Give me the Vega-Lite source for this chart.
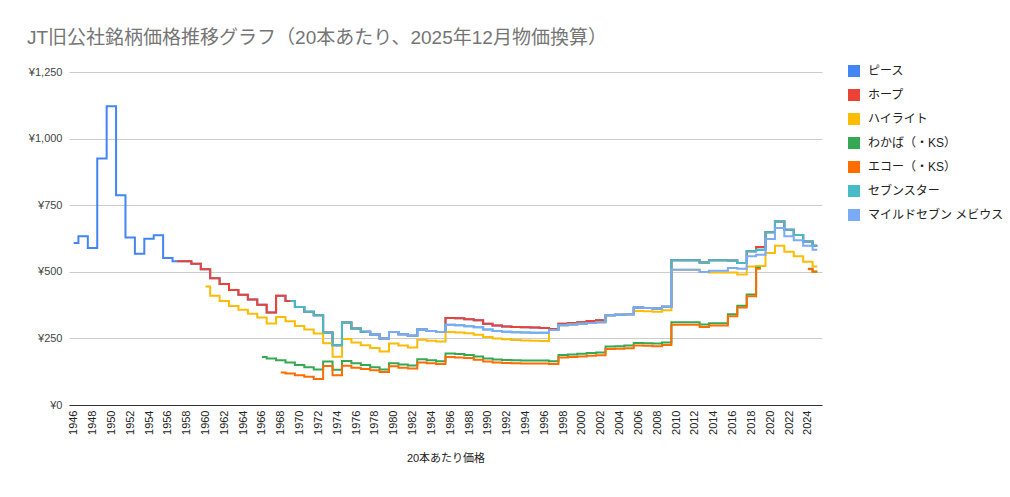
{
  "$schema": "https://vega.github.io/schema/vega-lite/v6.json",
  "width": 753,
  "height": 333,
  "autosize": "none",
  "padding": {"left": 69, "top": 72, "right": 188, "bottom": 92},
  "background": "white",
  "title": {
    "text": "JT旧公社銘柄価格推移グラフ（20本あたり、2025年12月物価換算）",
    "anchor": "start",
    "frame": "group",
    "dx": -42,
    "offset": 17,
    "fontSize": 19,
    "fontWeight": "normal",
    "color": "#757575"
  },
  "data": {
    "values": [
      {"brand": "ピース", "year": 1946, "price": 608},
      {"brand": "ピース", "year": 1947, "price": 633},
      {"brand": "ピース", "year": 1948, "price": 589},
      {"brand": "ピース", "year": 1949, "price": 925},
      {"brand": "ピース", "year": 1950, "price": 1121},
      {"brand": "ピース", "year": 1951, "price": 787},
      {"brand": "ピース", "year": 1952, "price": 629},
      {"brand": "ピース", "year": 1953, "price": 568},
      {"brand": "ピース", "year": 1954, "price": 624},
      {"brand": "ピース", "year": 1955, "price": 637},
      {"brand": "ピース", "year": 1956, "price": 552},
      {"brand": "ピース", "year": 1957, "price": 540},
      {"brand": "ピース", "year": 1958, "price": 540},
      {"brand": "ピース", "year": 1959, "price": 530},
      {"brand": "ピース", "year": 1960, "price": 510},
      {"brand": "ピース", "year": 1961, "price": 476},
      {"brand": "ピース", "year": 1962, "price": 454},
      {"brand": "ピース", "year": 1963, "price": 432},
      {"brand": "ピース", "year": 1964, "price": 414},
      {"brand": "ピース", "year": 1965, "price": 396},
      {"brand": "ピース", "year": 1966, "price": 376},
      {"brand": "ピース", "year": 1967, "price": 347},
      {"brand": "ピース", "year": 1968, "price": 410},
      {"brand": "ピース", "year": 1969, "price": 390},
      {"brand": "ピース", "year": 1970, "price": 368},
      {"brand": "ピース", "year": 1971, "price": 350},
      {"brand": "ピース", "year": 1972, "price": 337},
      {"brand": "ピース", "year": 1973, "price": 272},
      {"brand": "ピース", "year": 1974, "price": 224},
      {"brand": "ピース", "year": 1975, "price": 310},
      {"brand": "ピース", "year": 1976, "price": 287},
      {"brand": "ピース", "year": 1977, "price": 275},
      {"brand": "ピース", "year": 1978, "price": 265},
      {"brand": "ピース", "year": 1979, "price": 250},
      {"brand": "ピース", "year": 1980, "price": 274},
      {"brand": "ピース", "year": 1981, "price": 266},
      {"brand": "ピース", "year": 1982, "price": 260},
      {"brand": "ピース", "year": 1983, "price": 283},
      {"brand": "ピース", "year": 1984, "price": 278},
      {"brand": "ピース", "year": 1985, "price": 274},
      {"brand": "ピース", "year": 1986, "price": 327},
      {"brand": "ピース", "year": 1987, "price": 326},
      {"brand": "ピース", "year": 1988, "price": 322},
      {"brand": "ピース", "year": 1989, "price": 318},
      {"brand": "ピース", "year": 1990, "price": 305},
      {"brand": "ピース", "year": 1991, "price": 298},
      {"brand": "ピース", "year": 1992, "price": 295},
      {"brand": "ピース", "year": 1993, "price": 293},
      {"brand": "ピース", "year": 1994, "price": 292},
      {"brand": "ピース", "year": 1995, "price": 291},
      {"brand": "ピース", "year": 1996, "price": 289},
      {"brand": "ピース", "year": 1997, "price": 285},
      {"brand": "ピース", "year": 1998, "price": 305},
      {"brand": "ピース", "year": 1999, "price": 308},
      {"brand": "ピース", "year": 2000, "price": 311},
      {"brand": "ピース", "year": 2001, "price": 315},
      {"brand": "ピース", "year": 2002, "price": 318},
      {"brand": "ピース", "year": 2003, "price": 337},
      {"brand": "ピース", "year": 2004, "price": 339},
      {"brand": "ピース", "year": 2005, "price": 341},
      {"brand": "ピース", "year": 2006, "price": 366},
      {"brand": "ピース", "year": 2007, "price": 364},
      {"brand": "ピース", "year": 2008, "price": 362},
      {"brand": "ピース", "year": 2009, "price": 369},
      {"brand": "ピース", "year": 2010, "price": 543},
      {"brand": "ピース", "year": 2011, "price": 543},
      {"brand": "ピース", "year": 2012, "price": 543},
      {"brand": "ピース", "year": 2013, "price": 535},
      {"brand": "ピース", "year": 2014, "price": 543},
      {"brand": "ピース", "year": 2015, "price": 543},
      {"brand": "ピース", "year": 2016, "price": 542},
      {"brand": "ピース", "year": 2017, "price": 533},
      {"brand": "ピース", "year": 2018, "price": 577},
      {"brand": "ピース", "year": 2019, "price": 583},
      {"brand": "ピース", "year": 2020, "price": 648},
      {"brand": "ピース", "year": 2021, "price": 689},
      {"brand": "ピース", "year": 2022, "price": 658},
      {"brand": "ピース", "year": 2023, "price": 638},
      {"brand": "ピース", "year": 2024, "price": 614},
      {"brand": "ピース", "year": 2025, "price": 598},

      {"brand": "ホープ", "year": 1957, "price": 540},
      {"brand": "ホープ", "year": 1958, "price": 540},
      {"brand": "ホープ", "year": 1959, "price": 530},
      {"brand": "ホープ", "year": 1960, "price": 510},
      {"brand": "ホープ", "year": 1961, "price": 476},
      {"brand": "ホープ", "year": 1962, "price": 454},
      {"brand": "ホープ", "year": 1963, "price": 432},
      {"brand": "ホープ", "year": 1964, "price": 414},
      {"brand": "ホープ", "year": 1965, "price": 396},
      {"brand": "ホープ", "year": 1966, "price": 376},
      {"brand": "ホープ", "year": 1967, "price": 347},
      {"brand": "ホープ", "year": 1968, "price": 410},
      {"brand": "ホープ", "year": 1969, "price": 390},
      {"brand": "ホープ", "year": 1970, "price": 368},
      {"brand": "ホープ", "year": 1971, "price": 350},
      {"brand": "ホープ", "year": 1972, "price": 337},
      {"brand": "ホープ", "year": 1973, "price": 272},
      {"brand": "ホープ", "year": 1974, "price": 224},
      {"brand": "ホープ", "year": 1975, "price": 310},
      {"brand": "ホープ", "year": 1976, "price": 287},
      {"brand": "ホープ", "year": 1977, "price": 275},
      {"brand": "ホープ", "year": 1978, "price": 265},
      {"brand": "ホープ", "year": 1979, "price": 250},
      {"brand": "ホープ", "year": 1980, "price": 274},
      {"brand": "ホープ", "year": 1981, "price": 266},
      {"brand": "ホープ", "year": 1982, "price": 260},
      {"brand": "ホープ", "year": 1983, "price": 283},
      {"brand": "ホープ", "year": 1984, "price": 278},
      {"brand": "ホープ", "year": 1985, "price": 274},
      {"brand": "ホープ", "year": 1986, "price": 327},
      {"brand": "ホープ", "year": 1987, "price": 326},
      {"brand": "ホープ", "year": 1988, "price": 322},
      {"brand": "ホープ", "year": 1989, "price": 318},
      {"brand": "ホープ", "year": 1990, "price": 305},
      {"brand": "ホープ", "year": 1991, "price": 298},
      {"brand": "ホープ", "year": 1992, "price": 295},
      {"brand": "ホープ", "year": 1993, "price": 293},
      {"brand": "ホープ", "year": 1994, "price": 292},
      {"brand": "ホープ", "year": 1995, "price": 291},
      {"brand": "ホープ", "year": 1996, "price": 289},
      {"brand": "ホープ", "year": 1997, "price": 285},
      {"brand": "ホープ", "year": 1998, "price": 305},
      {"brand": "ホープ", "year": 1999, "price": 308},
      {"brand": "ホープ", "year": 2000, "price": 311},
      {"brand": "ホープ", "year": 2001, "price": 315},
      {"brand": "ホープ", "year": 2002, "price": 318},
      {"brand": "ホープ", "year": 2003, "price": 337},
      {"brand": "ホープ", "year": 2004, "price": 339},
      {"brand": "ホープ", "year": 2005, "price": 341},
      {"brand": "ホープ", "year": 2006, "price": 366},
      {"brand": "ホープ", "year": 2007, "price": 364},
      {"brand": "ホープ", "year": 2008, "price": 362},
      {"brand": "ホープ", "year": 2009, "price": 369},
      {"brand": "ホープ", "year": 2010, "price": 543},
      {"brand": "ホープ", "year": 2011, "price": 543},
      {"brand": "ホープ", "year": 2012, "price": 543},
      {"brand": "ホープ", "year": 2013, "price": 535},
      {"brand": "ホープ", "year": 2014, "price": 543},
      {"brand": "ホープ", "year": 2015, "price": 543},
      {"brand": "ホープ", "year": 2016, "price": 542},
      {"brand": "ホープ", "year": 2017, "price": 533},
      {"brand": "ホープ", "year": 2018, "price": 577},
      {"brand": "ホープ", "year": 2019, "price": 593},
      {"brand": "ホープ", "year": 2020, "price": 648},
      {"brand": "ホープ", "year": 2021, "price": 689},
      {"brand": "ホープ", "year": 2022, "price": 658},
      {"brand": "ホープ", "year": 2023, "price": 638},
      {"brand": "ホープ", "year": 2024, "price": 614},
      {"brand": "ホープ", "year": 2025, "price": 598},

      {"brand": "ハイライト", "year": 1960, "price": 445},
      {"brand": "ハイライト", "year": 1961, "price": 410},
      {"brand": "ハイライト", "year": 1962, "price": 390},
      {"brand": "ハイライト", "year": 1963, "price": 372},
      {"brand": "ハイライト", "year": 1964, "price": 358},
      {"brand": "ハイライト", "year": 1965, "price": 343},
      {"brand": "ハイライト", "year": 1966, "price": 328},
      {"brand": "ハイライト", "year": 1967, "price": 306},
      {"brand": "ハイライト", "year": 1968, "price": 330},
      {"brand": "ハイライト", "year": 1969, "price": 314},
      {"brand": "ハイライト", "year": 1970, "price": 297},
      {"brand": "ハイライト", "year": 1971, "price": 283},
      {"brand": "ハイライト", "year": 1972, "price": 268},
      {"brand": "ハイライト", "year": 1973, "price": 232},
      {"brand": "ハイライト", "year": 1974, "price": 181},
      {"brand": "ハイライト", "year": 1975, "price": 248},
      {"brand": "ハイライト", "year": 1976, "price": 235},
      {"brand": "ハイライト", "year": 1977, "price": 224},
      {"brand": "ハイライト", "year": 1978, "price": 214},
      {"brand": "ハイライト", "year": 1979, "price": 201},
      {"brand": "ハイライト", "year": 1980, "price": 231},
      {"brand": "ハイライト", "year": 1981, "price": 223},
      {"brand": "ハイライト", "year": 1982, "price": 216},
      {"brand": "ハイライト", "year": 1983, "price": 245},
      {"brand": "ハイライト", "year": 1984, "price": 241},
      {"brand": "ハイライト", "year": 1985, "price": 238},
      {"brand": "ハイライト", "year": 1986, "price": 274},
      {"brand": "ハイライト", "year": 1987, "price": 272},
      {"brand": "ハイライト", "year": 1988, "price": 269},
      {"brand": "ハイライト", "year": 1989, "price": 264},
      {"brand": "ハイライト", "year": 1990, "price": 255},
      {"brand": "ハイライト", "year": 1991, "price": 250},
      {"brand": "ハイライト", "year": 1992, "price": 247},
      {"brand": "ハイライト", "year": 1993, "price": 244},
      {"brand": "ハイライト", "year": 1994, "price": 242},
      {"brand": "ハイライト", "year": 1995, "price": 241},
      {"brand": "ハイライト", "year": 1996, "price": 240},
      {"brand": "ハイライト", "year": 1997, "price": 282},
      {"brand": "ハイライト", "year": 1998, "price": 299},
      {"brand": "ハイライト", "year": 1999, "price": 302},
      {"brand": "ハイライト", "year": 2000, "price": 305},
      {"brand": "ハイライト", "year": 2001, "price": 308},
      {"brand": "ハイライト", "year": 2002, "price": 311},
      {"brand": "ハイライト", "year": 2003, "price": 337},
      {"brand": "ハイライト", "year": 2004, "price": 339},
      {"brand": "ハイライト", "year": 2005, "price": 341},
      {"brand": "ハイライト", "year": 2006, "price": 353},
      {"brand": "ハイライト", "year": 2007, "price": 352},
      {"brand": "ハイライト", "year": 2008, "price": 350},
      {"brand": "ハイライト", "year": 2009, "price": 356},
      {"brand": "ハイライト", "year": 2010, "price": 508},
      {"brand": "ハイライト", "year": 2011, "price": 508},
      {"brand": "ハイライト", "year": 2012, "price": 508},
      {"brand": "ハイライト", "year": 2013, "price": 499},
      {"brand": "ハイライト", "year": 2014, "price": 497},
      {"brand": "ハイライト", "year": 2015, "price": 497},
      {"brand": "ハイライト", "year": 2016, "price": 497},
      {"brand": "ハイライト", "year": 2017, "price": 490},
      {"brand": "ハイライト", "year": 2018, "price": 520},
      {"brand": "ハイライト", "year": 2019, "price": 522},
      {"brand": "ハイライト", "year": 2020, "price": 571},
      {"brand": "ハイライト", "year": 2021, "price": 598},
      {"brand": "ハイライト", "year": 2022, "price": 575},
      {"brand": "ハイライト", "year": 2023, "price": 558},
      {"brand": "ハイライト", "year": 2024, "price": 538},
      {"brand": "ハイライト", "year": 2025, "price": 520},

      {"brand": "わかば（・KS）", "year": 1966, "price": 180},
      {"brand": "わかば（・KS）", "year": 1967, "price": 175},
      {"brand": "わかば（・KS）", "year": 1968, "price": 168},
      {"brand": "わかば（・KS）", "year": 1969, "price": 160},
      {"brand": "わかば（・KS）", "year": 1970, "price": 150},
      {"brand": "わかば（・KS）", "year": 1971, "price": 142},
      {"brand": "わかば（・KS）", "year": 1972, "price": 133},
      {"brand": "わかば（・KS）", "year": 1973, "price": 163},
      {"brand": "わかば（・KS）", "year": 1974, "price": 132},
      {"brand": "わかば（・KS）", "year": 1975, "price": 165},
      {"brand": "わかば（・KS）", "year": 1976, "price": 157},
      {"brand": "わかば（・KS）", "year": 1977, "price": 150},
      {"brand": "わかば（・KS）", "year": 1978, "price": 142},
      {"brand": "わかば（・KS）", "year": 1979, "price": 133},
      {"brand": "わかば（・KS）", "year": 1980, "price": 157},
      {"brand": "わかば（・KS）", "year": 1981, "price": 152},
      {"brand": "わかば（・KS）", "year": 1982, "price": 148},
      {"brand": "わかば（・KS）", "year": 1983, "price": 172},
      {"brand": "わかば（・KS）", "year": 1984, "price": 168},
      {"brand": "わかば（・KS）", "year": 1985, "price": 164},
      {"brand": "わかば（・KS）", "year": 1986, "price": 193},
      {"brand": "わかば（・KS）", "year": 1987, "price": 191},
      {"brand": "わかば（・KS）", "year": 1988, "price": 188},
      {"brand": "わかば（・KS）", "year": 1989, "price": 182},
      {"brand": "わかば（・KS）", "year": 1990, "price": 175},
      {"brand": "わかば（・KS）", "year": 1991, "price": 171},
      {"brand": "わかば（・KS）", "year": 1992, "price": 169},
      {"brand": "わかば（・KS）", "year": 1993, "price": 168},
      {"brand": "わかば（・KS）", "year": 1994, "price": 167},
      {"brand": "わかば（・KS）", "year": 1995, "price": 167},
      {"brand": "わかば（・KS）", "year": 1996, "price": 167},
      {"brand": "わかば（・KS）", "year": 1997, "price": 164},
      {"brand": "わかば（・KS）", "year": 1998, "price": 188},
      {"brand": "わかば（・KS）", "year": 1999, "price": 190},
      {"brand": "わかば（・KS）", "year": 2000, "price": 192},
      {"brand": "わかば（・KS）", "year": 2001, "price": 195},
      {"brand": "わかば（・KS）", "year": 2002, "price": 197},
      {"brand": "わかば（・KS）", "year": 2003, "price": 220},
      {"brand": "わかば（・KS）", "year": 2004, "price": 221},
      {"brand": "わかば（・KS）", "year": 2005, "price": 223},
      {"brand": "わかば（・KS）", "year": 2006, "price": 233},
      {"brand": "わかば（・KS）", "year": 2007, "price": 232},
      {"brand": "わかば（・KS）", "year": 2008, "price": 231},
      {"brand": "わかば（・KS）", "year": 2009, "price": 235},
      {"brand": "わかば（・KS）", "year": 2010, "price": 311},
      {"brand": "わかば（・KS）", "year": 2011, "price": 311},
      {"brand": "わかば（・KS）", "year": 2012, "price": 311},
      {"brand": "わかば（・KS）", "year": 2013, "price": 302},
      {"brand": "わかば（・KS）", "year": 2014, "price": 307},
      {"brand": "わかば（・KS）", "year": 2015, "price": 307},
      {"brand": "わかば（・KS）", "year": 2016, "price": 341},
      {"brand": "わかば（・KS）", "year": 2017, "price": 373},
      {"brand": "わかば（・KS）", "year": 2018, "price": 415},
      {"brand": "わかば（・KS）", "year": 2019, "price": 515},
      {"brand": "わかば（・KS）", "year": 2020, "price": null},
      {"brand": "わかば（・KS）", "year": 2021, "price": null},
      {"brand": "わかば（・KS）", "year": 2022, "price": null},
      {"brand": "わかば（・KS）", "year": 2023, "price": null},
      {"brand": "わかば（・KS）", "year": 2024, "price": 511},
      {"brand": "わかば（・KS）", "year": 2025, "price": 501},

      {"brand": "エコー（・KS）", "year": 1968, "price": 122},
      {"brand": "エコー（・KS）", "year": 1969, "price": 118},
      {"brand": "エコー（・KS）", "year": 1970, "price": 112},
      {"brand": "エコー（・KS）", "year": 1971, "price": 106},
      {"brand": "エコー（・KS）", "year": 1972, "price": 98},
      {"brand": "エコー（・KS）", "year": 1973, "price": 146},
      {"brand": "エコー（・KS）", "year": 1974, "price": 112},
      {"brand": "エコー（・KS）", "year": 1975, "price": 147},
      {"brand": "エコー（・KS）", "year": 1976, "price": 140},
      {"brand": "エコー（・KS）", "year": 1977, "price": 135},
      {"brand": "エコー（・KS）", "year": 1978, "price": 130},
      {"brand": "エコー（・KS）", "year": 1979, "price": 124},
      {"brand": "エコー（・KS）", "year": 1980, "price": 145},
      {"brand": "エコー（・KS）", "year": 1981, "price": 140},
      {"brand": "エコー（・KS）", "year": 1982, "price": 137},
      {"brand": "エコー（・KS）", "year": 1983, "price": 160},
      {"brand": "エコー（・KS）", "year": 1984, "price": 157},
      {"brand": "エコー（・KS）", "year": 1985, "price": 154},
      {"brand": "エコー（・KS）", "year": 1986, "price": 180},
      {"brand": "エコー（・KS）", "year": 1987, "price": 178},
      {"brand": "エコー（・KS）", "year": 1988, "price": 176},
      {"brand": "エコー（・KS）", "year": 1989, "price": 170},
      {"brand": "エコー（・KS）", "year": 1990, "price": 163},
      {"brand": "エコー（・KS）", "year": 1991, "price": 160},
      {"brand": "エコー（・KS）", "year": 1992, "price": 158},
      {"brand": "エコー（・KS）", "year": 1993, "price": 157},
      {"brand": "エコー（・KS）", "year": 1994, "price": 156},
      {"brand": "エコー（・KS）", "year": 1995, "price": 156},
      {"brand": "エコー（・KS）", "year": 1996, "price": 156},
      {"brand": "エコー（・KS）", "year": 1997, "price": 154},
      {"brand": "エコー（・KS）", "year": 1998, "price": 178},
      {"brand": "エコー（・KS）", "year": 1999, "price": 180},
      {"brand": "エコー（・KS）", "year": 2000, "price": 182},
      {"brand": "エコー（・KS）", "year": 2001, "price": 185},
      {"brand": "エコー（・KS）", "year": 2002, "price": 187},
      {"brand": "エコー（・KS）", "year": 2003, "price": 210},
      {"brand": "エコー（・KS）", "year": 2004, "price": 211},
      {"brand": "エコー（・KS）", "year": 2005, "price": 213},
      {"brand": "エコー（・KS）", "year": 2006, "price": 223},
      {"brand": "エコー（・KS）", "year": 2007, "price": 222},
      {"brand": "エコー（・KS）", "year": 2008, "price": 221},
      {"brand": "エコー（・KS）", "year": 2009, "price": 225},
      {"brand": "エコー（・KS）", "year": 2010, "price": 301},
      {"brand": "エコー（・KS）", "year": 2011, "price": 301},
      {"brand": "エコー（・KS）", "year": 2012, "price": 301},
      {"brand": "エコー（・KS）", "year": 2013, "price": 293},
      {"brand": "エコー（・KS）", "year": 2014, "price": 298},
      {"brand": "エコー（・KS）", "year": 2015, "price": 298},
      {"brand": "エコー（・KS）", "year": 2016, "price": 333},
      {"brand": "エコー（・KS）", "year": 2017, "price": 366},
      {"brand": "エコー（・KS）", "year": 2018, "price": 408},
      {"brand": "エコー（・KS）", "year": 2019, "price": 511},
      {"brand": "エコー（・KS）", "year": 2020, "price": null},
      {"brand": "エコー（・KS）", "year": 2021, "price": null},
      {"brand": "エコー（・KS）", "year": 2022, "price": null},
      {"brand": "エコー（・KS）", "year": 2023, "price": null},
      {"brand": "エコー（・KS）", "year": 2024, "price": 510},
      {"brand": "エコー（・KS）", "year": 2025, "price": 500},

      {"brand": "セブンスター", "year": 1969, "price": 390},
      {"brand": "セブンスター", "year": 1970, "price": 368},
      {"brand": "セブンスター", "year": 1971, "price": 350},
      {"brand": "セブンスター", "year": 1972, "price": 337},
      {"brand": "セブンスター", "year": 1973, "price": 272},
      {"brand": "セブンスター", "year": 1974, "price": 224},
      {"brand": "セブンスター", "year": 1975, "price": 310},
      {"brand": "セブンスター", "year": 1976, "price": 287},
      {"brand": "セブンスター", "year": 1977, "price": 275},
      {"brand": "セブンスター", "year": 1978, "price": 265},
      {"brand": "セブンスター", "year": 1979, "price": 250},
      {"brand": "セブンスター", "year": 1980, "price": 274},
      {"brand": "セブンスター", "year": 1981, "price": 266},
      {"brand": "セブンスター", "year": 1982, "price": 260},
      {"brand": "セブンスター", "year": 1983, "price": 283},
      {"brand": "セブンスター", "year": 1984, "price": 278},
      {"brand": "セブンスター", "year": 1985, "price": 274},
      {"brand": "セブンスター", "year": 1986, "price": 301},
      {"brand": "セブンスター", "year": 1987, "price": 299},
      {"brand": "セブンスター", "year": 1988, "price": 296},
      {"brand": "セブンスター", "year": 1989, "price": 292},
      {"brand": "セブンスター", "year": 1990, "price": 283},
      {"brand": "セブンスター", "year": 1991, "price": 278},
      {"brand": "セブンスター", "year": 1992, "price": 275},
      {"brand": "セブンスター", "year": 1993, "price": 273},
      {"brand": "セブンスター", "year": 1994, "price": 272},
      {"brand": "セブンスター", "year": 1995, "price": 271},
      {"brand": "セブンスター", "year": 1996, "price": 271},
      {"brand": "セブンスター", "year": 1997, "price": 282},
      {"brand": "セブンスター", "year": 1998, "price": 299},
      {"brand": "セブンスター", "year": 1999, "price": 302},
      {"brand": "セブンスター", "year": 2000, "price": 305},
      {"brand": "セブンスター", "year": 2001, "price": 308},
      {"brand": "セブンスター", "year": 2002, "price": 311},
      {"brand": "セブンスター", "year": 2003, "price": 337},
      {"brand": "セブンスター", "year": 2004, "price": 339},
      {"brand": "セブンスター", "year": 2005, "price": 341},
      {"brand": "セブンスター", "year": 2006, "price": 366},
      {"brand": "セブンスター", "year": 2007, "price": 364},
      {"brand": "セブンスター", "year": 2008, "price": 362},
      {"brand": "セブンスター", "year": 2009, "price": 369},
      {"brand": "セブンスター", "year": 2010, "price": 543},
      {"brand": "セブンスター", "year": 2011, "price": 543},
      {"brand": "セブンスター", "year": 2012, "price": 543},
      {"brand": "セブンスター", "year": 2013, "price": 535},
      {"brand": "セブンスター", "year": 2014, "price": 543},
      {"brand": "セブンスター", "year": 2015, "price": 543},
      {"brand": "セブンスター", "year": 2016, "price": 542},
      {"brand": "セブンスター", "year": 2017, "price": 533},
      {"brand": "セブンスター", "year": 2018, "price": 577},
      {"brand": "セブンスター", "year": 2019, "price": 583},
      {"brand": "セブンスター", "year": 2020, "price": 648},
      {"brand": "セブンスター", "year": 2021, "price": 689},
      {"brand": "セブンスター", "year": 2022, "price": 658},
      {"brand": "セブンスター", "year": 2023, "price": 638},
      {"brand": "セブンスター", "year": 2024, "price": 614},
      {"brand": "セブンスター", "year": 2025, "price": 598},

      {"brand": "マイルドセブン メビウス", "year": 1977, "price": 275},
      {"brand": "マイルドセブン メビウス", "year": 1978, "price": 265},
      {"brand": "マイルドセブン メビウス", "year": 1979, "price": 250},
      {"brand": "マイルドセブン メビウス", "year": 1980, "price": 274},
      {"brand": "マイルドセブン メビウス", "year": 1981, "price": 266},
      {"brand": "マイルドセブン メビウス", "year": 1982, "price": 260},
      {"brand": "マイルドセブン メビウス", "year": 1983, "price": 283},
      {"brand": "マイルドセブン メビウス", "year": 1984, "price": 278},
      {"brand": "マイルドセブン メビウス", "year": 1985, "price": 274},
      {"brand": "マイルドセブン メビウス", "year": 1986, "price": 301},
      {"brand": "マイルドセブン メビウス", "year": 1987, "price": 299},
      {"brand": "マイルドセブン メビウス", "year": 1988, "price": 296},
      {"brand": "マイルドセブン メビウス", "year": 1989, "price": 292},
      {"brand": "マイルドセブン メビウス", "year": 1990, "price": 283},
      {"brand": "マイルドセブン メビウス", "year": 1991, "price": 278},
      {"brand": "マイルドセブン メビウス", "year": 1992, "price": 275},
      {"brand": "マイルドセブン メビウス", "year": 1993, "price": 273},
      {"brand": "マイルドセブン メビウス", "year": 1994, "price": 272},
      {"brand": "マイルドセブン メビウス", "year": 1995, "price": 271},
      {"brand": "マイルドセブン メビウス", "year": 1996, "price": 271},
      {"brand": "マイルドセブン メビウス", "year": 1997, "price": 282},
      {"brand": "マイルドセブン メビウス", "year": 1998, "price": 299},
      {"brand": "マイルドセブン メビウス", "year": 1999, "price": 302},
      {"brand": "マイルドセブン メビウス", "year": 2000, "price": 305},
      {"brand": "マイルドセブン メビウス", "year": 2001, "price": 308},
      {"brand": "マイルドセブン メビウス", "year": 2002, "price": 311},
      {"brand": "マイルドセブン メビウス", "year": 2003, "price": 337},
      {"brand": "マイルドセブン メビウス", "year": 2004, "price": 339},
      {"brand": "マイルドセブン メビウス", "year": 2005, "price": 341},
      {"brand": "マイルドセブン メビウス", "year": 2006, "price": 366},
      {"brand": "マイルドセブン メビウス", "year": 2007, "price": 364},
      {"brand": "マイルドセブン メビウス", "year": 2008, "price": 362},
      {"brand": "マイルドセブン メビウス", "year": 2009, "price": 369},
      {"brand": "マイルドセブン メビウス", "year": 2010, "price": 508},
      {"brand": "マイルドセブン メビウス", "year": 2011, "price": 508},
      {"brand": "マイルドセブン メビウス", "year": 2012, "price": 508},
      {"brand": "マイルドセブン メビウス", "year": 2013, "price": 499},
      {"brand": "マイルドセブン メビウス", "year": 2014, "price": 504},
      {"brand": "マイルドセブン メビウス", "year": 2015, "price": 504},
      {"brand": "マイルドセブン メビウス", "year": 2016, "price": 514},
      {"brand": "マイルドセブン メビウス", "year": 2017, "price": 511},
      {"brand": "マイルドセブン メビウス", "year": 2018, "price": 558},
      {"brand": "マイルドセブン メビウス", "year": 2019, "price": 564},
      {"brand": "マイルドセブン メビウス", "year": 2020, "price": 623},
      {"brand": "マイルドセブン メビウス", "year": 2021, "price": 664},
      {"brand": "マイルドセブン メビウス", "year": 2022, "price": 633},
      {"brand": "マイルドセブン メビウス", "year": 2023, "price": 618},
      {"brand": "マイルドセブン メビウス", "year": 2024, "price": 598},
      {"brand": "マイルドセブン メビウス", "year": 2025, "price": 583}
    ]
  },
  "mark": {
    "type": "line",
    "interpolate": "step",
    "strokeWidth": 2,
    "invalid": "break-paths-show-domains"
  },
  "encoding": {
    "x": {
      "field": "year",
      "type": "quantitative",
      "scale": {"domain": [1945.5, 2025.5], "nice": false, "zero": false},
      "axis": {
        "values": [1946, 1948, 1950, 1952, 1954, 1956, 1958, 1960, 1962, 1964, 1966, 1968, 1970, 1972, 1974, 1976, 1978, 1980, 1982, 1984, 1986, 1988, 1990, 1992, 1994, 1996, 1998, 2000, 2002, 2004, 2006, 2008, 2010, 2012, 2014, 2016, 2018, 2020, 2022, 2024],
        "format": "d",
        "labelAngle": -90,
        "labelPadding": 5,
        "labelColor": "#222222",
        "labelFontSize": 11,
        "grid": false,
        "ticks": false,
        "domain": true,
        "domainColor": "#333333",
        "domainWidth": 1,
        "title": "20本あたり価格",
        "titleFontSize": 11,
        "titleFontWeight": "normal",
        "titleColor": "#222222",
        "titlePadding": 18
      }
    },
    "y": {
      "field": "price",
      "type": "quantitative",
      "scale": {"domain": [0, 1250], "nice": false},
      "axis": {
        "values": [0, 250, 500, 750, 1000, 1250],
        "labelExpr": "'¥' + format(datum.value, ',')",
        "labelColor": "#444444",
        "labelFontSize": 11,
        "labelPadding": 7,
        "grid": true,
        "gridColor": "#cccccc",
        "ticks": false,
        "domain": false,
        "title": null
      }
    },
    "color": {
      "field": "brand",
      "type": "nominal",
      "scale": {
        "domain": ["ピース", "ホープ", "ハイライト", "わかば（・KS）", "エコー（・KS）", "セブンスター", "マイルドセブン メビウス"],
        "range": ["#4285F4", "#EA4335", "#FBBC04", "#34A853", "#FF6D01", "#46BDC6", "#7BAAF7"]
      },
      "legend": {
        "title": null,
        "orient": "none",
        "legendX": 779,
        "legendY": -7,
        "symbolType": "square",
        "symbolSize": 144,
        "symbolStrokeWidth": 0,
        "labelFontSize": 12,
        "labelColor": "#222222",
        "labelOffset": 8,
        "rowPadding": 12,
        "encode": {
          "symbols": {"update": {"fill": {"scale": "color", "field": "value"}, "strokeWidth": {"value": 0}}}
        }
      }
    }
  },
  "config": {
    "font": "Liberation Sans, Noto Sans CJK JP, sans-serif",
    "view": {"stroke": null}
  }
}
